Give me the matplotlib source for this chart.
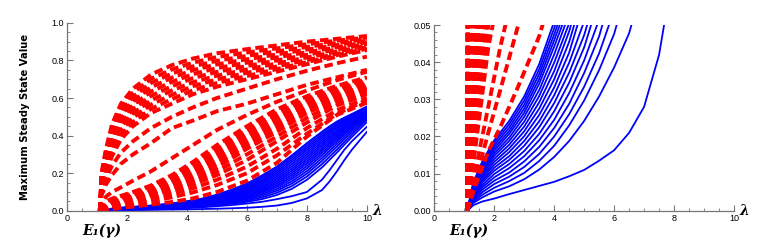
import matplotlib
matplotlib.use('Agg')
import matplotlib.pyplot as plt
from matplotlib.ticker import MultipleLocator

# red (dashed) family, values on a shared lambda grid
x_red = [1.1, 1.15, 1.3, 1.5, 1.8, 2.2, 2.8, 3.5, 4.2, 5, 6, 7, 8, 9, 10]

red_upper = [
    [0, 0.200, 0.330, 0.460, 0.570, 0.650, 0.725, 0.775, 0.810, 0.838, 0.860, 0.880, 0.900, 0.915, 0.930],
    [0, 0.190, 0.316, 0.441, 0.549, 0.628, 0.702, 0.752, 0.788, 0.818, 0.842, 0.864, 0.886, 0.905, 0.922],
    [0, 0.182, 0.302, 0.424, 0.530, 0.606, 0.680, 0.730, 0.768, 0.798, 0.824, 0.848, 0.872, 0.893, 0.914],
    [0, 0.173, 0.287, 0.405, 0.510, 0.584, 0.657, 0.708, 0.748, 0.779, 0.806, 0.832, 0.858, 0.882, 0.905],
    [0, 0.164, 0.273, 0.387, 0.490, 0.562, 0.634, 0.686, 0.727, 0.759, 0.788, 0.816, 0.844, 0.870, 0.897],
    [0, 0.155, 0.258, 0.368, 0.470, 0.540, 0.611, 0.663, 0.706, 0.739, 0.770, 0.800, 0.830, 0.858, 0.888],
    [0, 0.146, 0.244, 0.349, 0.450, 0.518, 0.588, 0.640, 0.684, 0.719, 0.752, 0.784, 0.816, 0.847, 0.879],
    [0, 0.137, 0.229, 0.330, 0.430, 0.495, 0.565, 0.617, 0.663, 0.699, 0.734, 0.768, 0.802, 0.835, 0.870],
    [0, 0.128, 0.214, 0.310, 0.405, 0.472, 0.542, 0.594, 0.641, 0.680, 0.717, 0.754, 0.791, 0.828, 0.862],
    [0, 0.120, 0.200, 0.290, 0.380, 0.450, 0.520, 0.570, 0.620, 0.660, 0.700, 0.740, 0.780, 0.820, 0.855],
    [0, 0.100, 0.170, 0.240, 0.310, 0.370, 0.440, 0.500, 0.550, 0.600, 0.650, 0.700, 0.745, 0.785, 0.820],
    [0, 0.080, 0.140, 0.190, 0.250, 0.300, 0.360, 0.440, 0.480, 0.530, 0.570, 0.620, 0.670, 0.710, 0.750],
]

red_lower = [
    [0, 0.035, 0.075, 0.100, 0.125, 0.160, 0.210, 0.280, 0.350, 0.430, 0.510, 0.580, 0.640, 0.695, 0.740],
    [0, 0.0120, 0.050, 0.065, 0.080, 0.100, 0.135, 0.190, 0.260, 0.350, 0.450, 0.540, 0.610, 0.665, 0.710],
    [0, 0.0096, 0.038, 0.060, 0.075, 0.095, 0.128, 0.179, 0.245, 0.330, 0.430, 0.520, 0.595, 0.652, 0.700],
    [0, 0.0078, 0.031, 0.056, 0.071, 0.090, 0.121, 0.168, 0.230, 0.310, 0.410, 0.500, 0.580, 0.640, 0.690],
    [0, 0.0066, 0.026, 0.052, 0.067, 0.085, 0.114, 0.157, 0.215, 0.290, 0.390, 0.480, 0.565, 0.628, 0.680],
    [0, 0.0056, 0.022, 0.045, 0.063, 0.080, 0.107, 0.147, 0.200, 0.270, 0.370, 0.460, 0.550, 0.616, 0.670],
    [0, 0.0048, 0.019, 0.039, 0.058, 0.076, 0.100, 0.136, 0.185, 0.250, 0.350, 0.440, 0.535, 0.604, 0.660],
    [0, 0.0042, 0.017, 0.034, 0.054, 0.071, 0.094, 0.126, 0.170, 0.230, 0.330, 0.420, 0.520, 0.592, 0.650],
    [0, 0.0036, 0.014, 0.029, 0.050, 0.066, 0.087, 0.115, 0.155, 0.210, 0.300, 0.395, 0.495, 0.576, 0.635],
    [0, 0.0030, 0.0125, 0.025, 0.044, 0.060, 0.080, 0.105, 0.140, 0.190, 0.270, 0.370, 0.470, 0.560, 0.620],
    [0, 0.0020, 0.008, 0.016, 0.028, 0.044, 0.065, 0.090, 0.120, 0.165, 0.235, 0.330, 0.440, 0.535, 0.600],
    [0, 0.0015, 0.006, 0.012, 0.021, 0.0325, 0.050, 0.072, 0.098, 0.137, 0.200, 0.295, 0.410, 0.515, 0.590],
    [0, 0.0012, 0.005, 0.0095, 0.016, 0.0225, 0.0335, 0.047, 0.066, 0.100, 0.160, 0.255, 0.395, 0.510, 0.575],
]

# blue (solid) family
x_blue = [1.1, 1.3, 1.6, 2, 2.5, 3, 3.5, 4, 4.5, 5, 5.5, 6, 6.5, 7, 7.5, 8, 8.5, 8.75, 9, 9.25, 9.5, 10]

blue = [
    [0, 0.0076, 0.0133, 0.0190, 0.0242, 0.0308, 0.0395, 0.0510, 0.0650, 0.086, 0.113, 0.145, 0.188, 0.235, 0.295, 0.360, 0.420, 0.449, 0.475, 0.496, 0.515, 0.555],
    [0, 0.0073, 0.0128, 0.0183, 0.0233, 0.0297, 0.0381, 0.0492, 0.0620, 0.082, 0.107, 0.138, 0.180, 0.233, 0.293, 0.357, 0.418, 0.445, 0.470, 0.493, 0.513, 0.552],
    [0, 0.0070, 0.0123, 0.0176, 0.0224, 0.0286, 0.0368, 0.0475, 0.0590, 0.078, 0.102, 0.131, 0.171, 0.222, 0.282, 0.345, 0.407, 0.435, 0.461, 0.485, 0.507, 0.549],
    [0, 0.0068, 0.0118, 0.0169, 0.0215, 0.0275, 0.0355, 0.0459, 0.0570, 0.074, 0.097, 0.125, 0.163, 0.212, 0.271, 0.334, 0.397, 0.426, 0.453, 0.478, 0.501, 0.546],
    [0, 0.0065, 0.0113, 0.0162, 0.0207, 0.0264, 0.0342, 0.0442, 0.0550, 0.071, 0.092, 0.119, 0.155, 0.202, 0.260, 0.323, 0.387, 0.417, 0.445, 0.471, 0.495, 0.543],
    [0, 0.0062, 0.0109, 0.0155, 0.0197, 0.0253, 0.0325, 0.0421, 0.0530, 0.068, 0.087, 0.113, 0.147, 0.192, 0.248, 0.311, 0.376, 0.407, 0.436, 0.464, 0.489, 0.540],
    [0, 0.0059, 0.0104, 0.0148, 0.0188, 0.0240, 0.0309, 0.0399, 0.0505, 0.065, 0.083, 0.107, 0.139, 0.182, 0.236, 0.299, 0.365, 0.397, 0.427, 0.456, 0.483, 0.536],
    [0, 0.0056, 0.0098, 0.0140, 0.0178, 0.0227, 0.0292, 0.0376, 0.0483, 0.062, 0.079, 0.101, 0.131, 0.172, 0.224, 0.287, 0.354, 0.387, 0.418, 0.448, 0.477, 0.532],
    [0, 0.0053, 0.0092, 0.0132, 0.0168, 0.0214, 0.0275, 0.0354, 0.0455, 0.059, 0.075, 0.096, 0.124, 0.163, 0.213, 0.275, 0.343, 0.377, 0.409, 0.441, 0.471, 0.528],
    [0, 0.0050, 0.0087, 0.0124, 0.0158, 0.0201, 0.0258, 0.0332, 0.0426, 0.056, 0.071, 0.091, 0.117, 0.154, 0.202, 0.263, 0.331, 0.366, 0.400, 0.433, 0.464, 0.524],
    [0, 0.0046, 0.0081, 0.0116, 0.0147, 0.0188, 0.0241, 0.0311, 0.0399, 0.051, 0.066, 0.085, 0.110, 0.145, 0.191, 0.251, 0.320, 0.356, 0.390, 0.425, 0.457, 0.519],
    [0, 0.0043, 0.0076, 0.0108, 0.0137, 0.0175, 0.0225, 0.0290, 0.0372, 0.0473, 0.061, 0.079, 0.103, 0.136, 0.180, 0.238, 0.308, 0.345, 0.380, 0.416, 0.450, 0.514],
    [0, 0.0040, 0.0069, 0.0099, 0.0126, 0.0161, 0.0207, 0.0268, 0.0345, 0.0440, 0.057, 0.073, 0.096, 0.127, 0.169, 0.225, 0.295, 0.333, 0.369, 0.407, 0.442, 0.508],
    [0, 0.0036, 0.0063, 0.0090, 0.0115, 0.0147, 0.0190, 0.0245, 0.0317, 0.0405, 0.0515, 0.067, 0.088, 0.117, 0.157, 0.211, 0.280, 0.319, 0.356, 0.395, 0.432, 0.502],
    [0, 0.0032, 0.0057, 0.0081, 0.0103, 0.0133, 0.0172, 0.0223, 0.0288, 0.0371, 0.0470, 0.061, 0.080, 0.107, 0.145, 0.197, 0.265, 0.304, 0.342, 0.382, 0.420, 0.494],
    [0, 0.0029, 0.0050, 0.0072, 0.0092, 0.0118, 0.0153, 0.0200, 0.0260, 0.0334, 0.0424, 0.054, 0.071, 0.096, 0.132, 0.182, 0.248, 0.287, 0.326, 0.367, 0.407, 0.485],
    [0, 0.0025, 0.0043, 0.0062, 0.0080, 0.0102, 0.0134, 0.0175, 0.0230, 0.0297, 0.0379, 0.0476, 0.062, 0.084, 0.117, 0.165, 0.230, 0.270, 0.310, 0.352, 0.393, 0.472],
    [0, 0.0021, 0.0036, 0.0052, 0.0066, 0.0085, 0.0111, 0.0145, 0.0188, 0.0242, 0.0308, 0.0386, 0.0478, 0.062, 0.078, 0.100, 0.165, 0.215, 0.270, 0.325, 0.370, 0.447],
    [0, 0.0015, 0.0025, 0.0033, 0.0045, 0.0056, 0.0067, 0.0078, 0.0093, 0.0110, 0.0135, 0.0163, 0.0210, 0.028, 0.042, 0.066, 0.110, 0.155, 0.210, 0.270, 0.325, 0.420],
]

fig = plt.figure(figsize=(7.69, 2.48), dpi=100)
ax1 = fig.add_axes([0.0871, 0.150, 0.390, 0.758])
ax2 = fig.add_axes([0.5648, 0.150, 0.3897, 0.749])


def draw_curves(ax):
    for ys in blue:
        ax.plot(x_blue, ys, color='#0000ff', lw=1.3)
    for ys in red_lower + red_upper:
        ax.plot(x_red, ys, color='#ff0000', lw=2.8, dashes=(2.2, 1.15))


def style_axes(ax, ymax, ymajor, yminor, yfmt):
    ax.set_xlim(0, 10)
    ax.set_ylim(0, ymax)
    for s in ['top', 'right']:
        ax.spines[s].set_visible(False)
    for s in ['left', 'bottom']:
        ax.spines[s].set_color('#777777')
        ax.spines[s].set_linewidth(0.9)
    ax.xaxis.set_major_locator(MultipleLocator(2))
    ax.xaxis.set_minor_locator(MultipleLocator(0.5))
    ax.yaxis.set_major_locator(MultipleLocator(ymajor))
    ax.yaxis.set_minor_locator(MultipleLocator(yminor))
    ax.yaxis.set_major_formatter(plt.FormatStrFormatter(yfmt))
    ax.tick_params(which='both', direction='in', color='#777777')
    ax.tick_params(which='major', length=4, width=0.8, labelsize=6.5, pad=2)
    ax.tick_params(which='minor', length=2, width=0.6)
    for lab in ax.get_xticklabels() + ax.get_yticklabels():
        lab.set_fontfamily('Liberation Sans')
    ax.text(1.035, 0.0, 'λ', transform=ax.transAxes, ha='center', va='center',
            fontsize=10, fontweight='bold', fontstyle='italic', family='DejaVu Serif')
    ax.text(0.115, -0.108, 'E₁(γ)', transform=ax.transAxes, ha='center', va='center',
            fontsize=10, fontweight='bold', fontstyle='italic', family='DejaVu Serif')


draw_curves(ax1)
draw_curves(ax2)
style_axes(ax1, 1.0, 0.2, 0.05, '%.1f')
style_axes(ax2, 0.05, 0.01, 0.002, '%.2f')

ax1.set_ylabel('Maximum Steady State Value', fontsize=7.2, fontweight='bold')
ax1.yaxis.set_label_coords(-0.123, 0.5)

fig.savefig('out.png', dpi=100)
